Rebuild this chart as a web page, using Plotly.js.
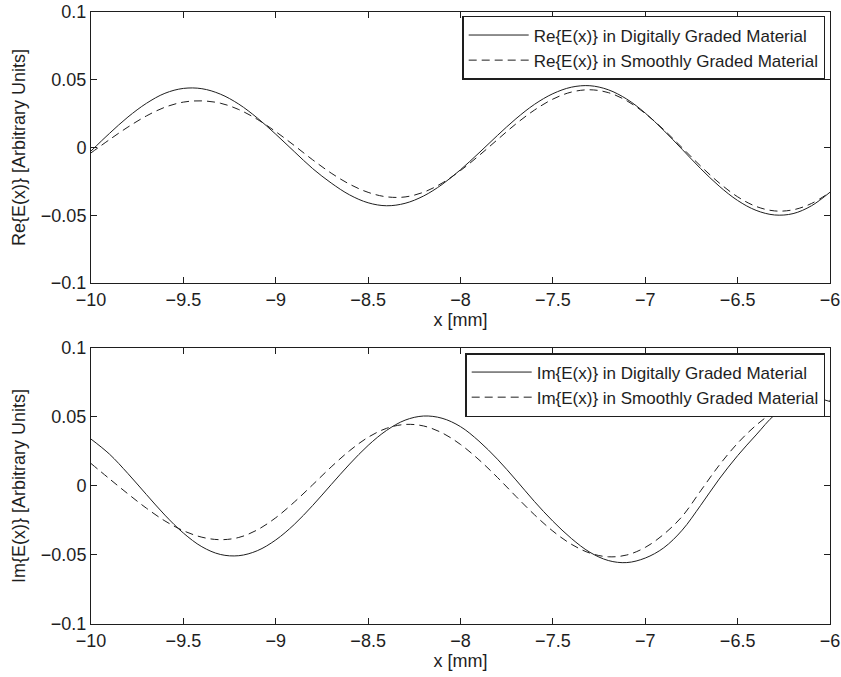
<!DOCTYPE html>
<html>
<head>
<meta charset="utf-8">
<script src="https://cdn.plot.ly/plotly-3.0.1.min.js"></script>
<style>html,body{margin:0;padding:0;background:#fff;}#chart{width:841px;height:677px;}</style>
</head>
<body>
<div id="chart"></div>
<script>
// x positions [mm]
const xPos = [-10.0,-9.9,-9.8,-9.7,-9.6,-9.5,-9.4,-9.3,-9.2,-9.1,-9.0,-8.9,-8.8,-8.7,-8.6,-8.5,-8.4,-8.3,-8.2,-8.1,-8.0,-7.9,-7.8,-7.7,-7.6,-7.5,-7.4,-7.3,-7.2,-7.1,-7.0,-6.9,-6.8,-6.7,-6.6,-6.5,-6.4,-6.3,-6.2,-6.1,-6.0];

// Re{E(x)} digitally graded
const reDigital = [-0.0026,0.0104,0.0225,0.0326,0.0400,0.0436,0.0434,0.0394,0.0320,0.0218,0.0098,-0.0030,-0.0156,-0.0262,-0.0350,-0.0408,-0.0430,-0.0412,-0.0358,-0.0273,-0.0164,-0.0040,0.0089,0.0212,0.0318,0.0397,0.0445,0.0456,0.0426,0.0357,0.0254,0.0126,-0.0014,-0.0156,-0.0285,-0.0391,-0.0464,-0.0498,-0.0488,-0.0430,-0.0330];
// Re{E(x)} smoothly graded
const reSmooth = [-0.0040,0.0058,0.0151,0.0233,0.0297,0.0335,0.0344,0.0327,0.0280,0.0208,0.0117,0.0015,-0.0091,-0.0189,-0.0271,-0.0331,-0.0364,-0.0365,-0.0330,-0.0263,-0.0170,-0.0060,0.0058,0.0174,0.0276,0.0357,0.0409,0.0426,0.0405,0.0345,0.0251,0.0132,-0.0002,-0.0137,-0.0261,-0.0364,-0.0435,-0.0468,-0.0460,-0.0413,-0.0330];
// Im{E(x)} digitally graded
const imDigital = [0.0340,0.0231,0.0090,-0.0062,-0.0211,-0.0341,-0.0440,-0.0496,-0.0505,-0.0469,-0.0391,-0.0279,-0.0141,0.0010,0.0159,0.0294,0.0403,0.0477,0.0507,0.0491,0.0430,0.0325,0.0194,0.0044,-0.0112,-0.0255,-0.0380,-0.0480,-0.0540,-0.0555,-0.0522,-0.0448,-0.0320,-0.0140,0.0050,0.0220,0.0370,0.0515,0.0605,0.0640,0.0612];
// Im{E(x)} smoothly graded
const imSmooth = [0.0163,0.0052,-0.0057,-0.0161,-0.0253,-0.0324,-0.0371,-0.0389,-0.0373,-0.0318,-0.0230,-0.0117,0.0009,0.0138,0.0256,0.0353,0.0418,0.0446,0.0435,0.0385,0.0301,0.0190,0.0062,-0.0075,-0.0208,-0.0327,-0.0422,-0.0486,-0.0513,-0.0500,-0.0445,-0.0350,-0.0220,-0.0035,0.0150,0.0310,0.0440,0.0540,0.0605,0.0632,0.0620];

const seriesNames = [
  "Re{E(x)} in Digitally Graded Material",
  "Re{E(x)} in Smoothly Graded Material",
  "Im{E(x)} in Digitally Graded Material",
  "Im{E(x)} in Smoothly Graded Material"
];
const xTitle = "x [mm]";
const yTitleTop = "Re{E(x)} [Arbitrary Units]";
const yTitleBottom = "Im{E(x)} [Arbitrary Units]";

const ink = "#1e1e1e";
const FONT = "Liberation Sans, Arial, Helvetica, sans-serif";
const FS = 18;

function tr(y, name, dash, xa, ya, leg) {
  return {
    x: xPos, y: y, name: name, type: "scatter", mode: "lines",
    xaxis: xa, yaxis: ya, legend: leg,
    line: {color: ink, width: 1, dash: dash, shape: "spline", smoothing: 1},
    hoverinfo: "skip"
  };
}

const data = [
  tr(reDigital, seriesNames[0], "solid", "x", "y", "legend"),
  tr(reSmooth, seriesNames[1], "8px,5px", "x", "y", "legend"),
  tr(imDigital, seriesNames[2], "solid", "x2", "y2", "legend2"),
  tr(imSmooth, seriesNames[3], "8px,5px", "x2", "y2", "legend2")
];

function xax(anchor) {
  return {
    anchor: anchor, domain: [0, 1], range: [-10, -6], dtick: 0.5, tick0: -10,
    showgrid: false, zeroline: false, showline: true, linecolor: ink, linewidth: 1,
    mirror: "ticks", ticks: "inside", ticklen: 6, tickcolor: ink, tickwidth: 1,
    tickfont: {family: FONT, size: FS, color: ink},
    title: {text: xTitle, font: {family: FONT, size: FS, color: ink}, standoff: 2},
    automargin: false
  };
}
function yax(anchor, domain, title) {
  return {
    anchor: anchor, domain: domain, range: [-0.1, 0.1], dtick: 0.05, tick0: 0,
    showgrid: false, zeroline: false, showline: true, linecolor: ink, linewidth: 1,
    mirror: "ticks", ticks: "inside", ticklen: 6, tickcolor: ink, tickwidth: 1,
    tickfont: {family: FONT, size: FS, color: ink},
    title: {text: title, font: {family: FONT, size: FS, color: ink}, standoff: 10},
    automargin: false
  };
}

function leg(y) {
  return {
    x: 0.9935, xanchor: "right", y: y, yanchor: "top",
    bgcolor: "#ffffff", bordercolor: ink, borderwidth: 1.5,
    font: {family: FONT, size: 17, color: ink},
    itemwidth: 60, tracegroupgap: 0
  };
}

const layout = {
  width: 841, height: 677,
  margin: {l: 91, r: 11, t: 12, b: 53},
  paper_bgcolor: "#ffffff", plot_bgcolor: "#ffffff",
  showlegend: true,
  xaxis: xax("y"),
  yaxis: yax("x", [0.5572, 1], yTitleTop),
  xaxis2: xax("y2"),
  yaxis2: yax("x2", [0, 0.451], yTitleBottom),
  legend: leg(0.9935),
  legend2: leg(0.4428)
};

Plotly.newPlot("chart", data, layout, {staticPlot: true, displayModeBar: false});
</script>
</body>
</html>
